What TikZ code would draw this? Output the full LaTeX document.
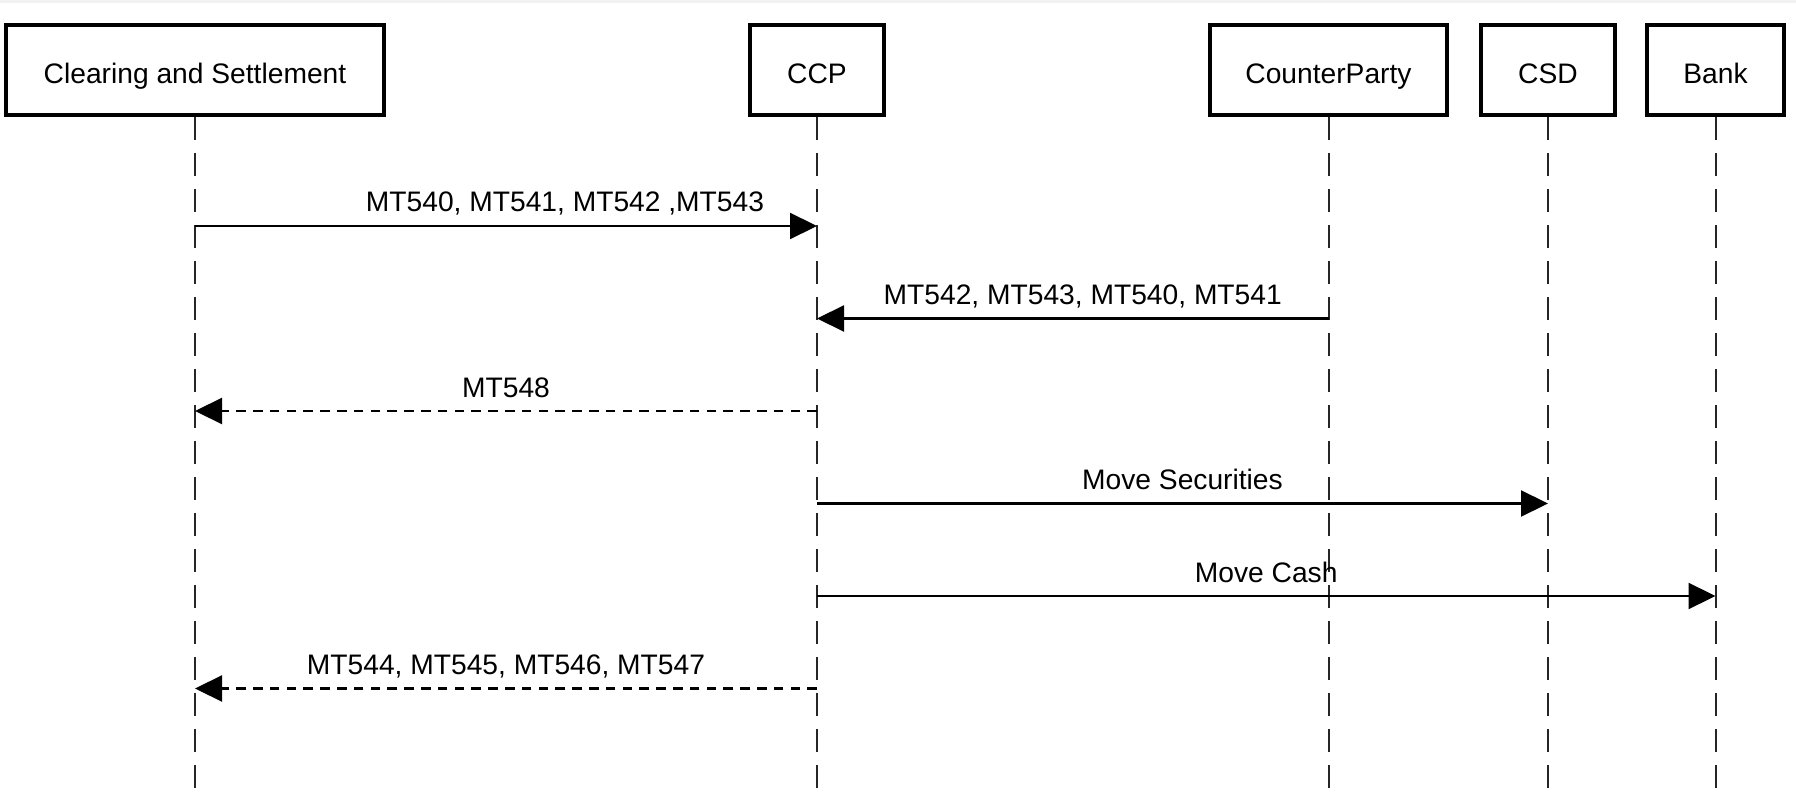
\documentclass[tikz,border=0pt]{standalone}
\usepackage{fontspec}
\setmainfont{Liberation Sans}
\usetikzlibrary{arrows.meta,calc}
\begin{document}
\begin{tikzpicture}[x=0.5pt,y=-0.5pt,
  actor/.style={draw=black,line width=2.3pt,fill=white,minimum height=45pt,inner sep=0pt,
    text height=15.6pt,text depth=2.2pt,
    font=\fontsize{14.1}{17}\selectfont},
  lifeline/.style={line width=1pt,draw=black!85,dash pattern=on 11.5pt off 6.5pt},
  msg/.style={line width=1.1pt,-{Triangle[length=13.5pt,width=13pt]}},
  reply/.style={msg,dash pattern=on 4.8pt off 3.6pt},
  lbl/.style={anchor=base,inner sep=0pt,font=\fontsize{14.1}{17}\selectfont}]
\useasboundingbox (0,0) rectangle (1796,792);
\fill[black!5] (0,0) rectangle (1796,3);
% actors
\node[actor,minimum width=189pt] (cs) at (195,70) {Clearing and Settlement};
\node[actor,minimum width=67pt] (ccp) at (817,70) {CCP};
\node[actor,minimum width=118.5pt] (cp) at (1328.5,70) {CounterParty};
\node[actor,minimum width=67pt] (csd) at (1548,70) {CSD};
\node[actor,minimum width=68.5pt] (bank) at (1715.5,70) {Bank};
% lifeline ends
\coordinate (csE) at (cs.south |- 0,792);
\coordinate (ccpE) at (ccp.south |- 0,792);
\coordinate (cpE) at (cp.south |- 0,792);
\coordinate (csdE) at (csd.south |- 0,792);
\coordinate (bankE) at (bank.south |- 0,792);
\draw[lifeline] (cs.south) -- (csE);
\draw[lifeline] (ccp.south) -- (ccpE);
\draw[lifeline] (cp.south) -- (cpE);
\draw[lifeline] (csd.south) -- (csdE);
\draw[lifeline] (bank.south) -- (bankE);
% message points
\coordinate (a1) at (cs.south |- 0,226);   \coordinate (b1) at (ccp.south |- 0,226);
\coordinate (a2) at (cp.south |- 0,318.5); \coordinate (b2) at (ccp.south |- 0,318.5);
\coordinate (a3) at (ccp.south |- 0,411);  \coordinate (b3) at (cs.south |- 0,411);
\coordinate (a4) at (ccp.south |- 0,503.5);\coordinate (b4) at (csd.south |- 0,503.5);
\coordinate (a5) at (ccp.south |- 0,596);  \coordinate (b5) at (bank.south |- 0,596);
\coordinate (a6) at (ccp.south |- 0,688.5);\coordinate (b6) at (cs.south |- 0,688.5);
% messages
\draw[msg] (a1) -- (b1);
\node[lbl] (l1) at ($(a1)!0.5!(b1)+(59,-14)$) {MT540, MT541, MT542 ,MT543};
\draw[msg] (a2) -- (b2);
\node[lbl] (l2) at ($(a2)!0.5!(b2)+(10,-14)$) {MT542, MT543, MT540, MT541};
\draw[reply] (a3) -- (b3);
\node[lbl] (l3) at ($(a3)!0.5!(b3)+(0,-14)$) {MT548};
\draw[msg] (a4) -- (b4);
\node[lbl] (l4) at ($(a4)!0.5!(b4)+(0,-14)$) {Move Securities};
\draw[msg] (a5) -- (b5);
\node[lbl] (l5) at ($(a5)!0.5!(b5)+(0,-14)$) {Move Cash};
\draw[reply] (a6) -- (b6);
\node[lbl] (l6) at ($(a6)!0.5!(b6)+(0,-14)$) {MT544, MT545, MT546, MT547};
\end{tikzpicture}
\end{document}
